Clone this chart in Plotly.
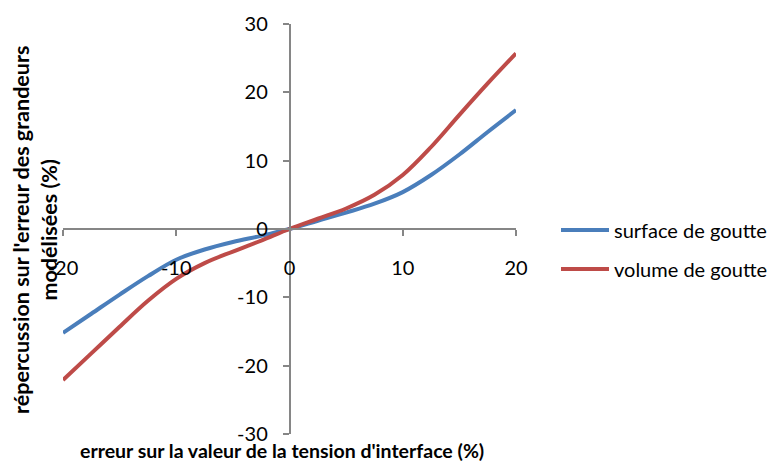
import plotly.graph_objects as go

x_vals = [-20, -17.5, -15, -12.5, -10, -7.5, -5, -2.5, 0, 2.5, 5, 7.5, 10, 12.5, 15, 17.5, 20]
surface = [-15.2, -12.4, -9.6, -6.9, -4.5, -3.0, -1.9, -1.0, 0, 1.2, 2.4, 3.7, 5.4, 7.9, 10.9, 14.2, 17.4]
volume = [-22.1, -18.2, -14.3, -10.5, -7.3, -5.0, -3.3, -1.7, 0, 1.5, 3.0, 5.0, 7.9, 12.0, 16.7, 21.3, 25.7]
x_ticks = [-20, -10, 0, 10, 20]
x_tick_labels = ["-20", "-10", "0", "10", "20"]
y_ticks = [-30, -20, -10, 0, 10, 20, 30]
y_tick_labels = ["-30", "-20", "-10", "0", "10", "20", "30"]

FONT = "Lato"
AX = "#868686"
OFF = 8  # page body margin

W, H = 775 - OFF, 463 - OFF
L, R_EDGE, T, B_EDGE = 63 - OFF, 516 - OFF, 24 - OFF, 434 - OFF
PW, PH = R_EDGE - L, B_EDGE - T


def px(xp):
    return (xp - OFF - L) / PW


def py(yp):
    return (B_EDGE - (yp - OFF)) / PH


fig = go.Figure()
fig.add_trace(go.Scatter(x=x_vals, y=surface, mode="lines", name="surface de goutte",
                         line=dict(color="#4A7EBB", width=4, shape="spline", smoothing=1.0),
                         legend="legend"))
fig.add_trace(go.Scatter(x=x_vals, y=volume, mode="lines", name="volume de goutte",
                         line=dict(color="#BE4B48", width=4, shape="spline", smoothing=1.0),
                         legend="legend2"))

leg_common = dict(xref="paper", yref="paper", xanchor="left", yanchor="middle",
                  font=dict(size=20), bgcolor="rgba(0,0,0,0)", itemwidth=48)

fig.update_layout(
    width=W, height=H,
    margin=dict(l=L, r=W - R_EDGE, t=T, b=H - B_EDGE, autoexpand=False),
    paper_bgcolor="white", plot_bgcolor="white",
    font=dict(family=FONT, size=20, color="#000000"),
    xaxis=dict(range=[-20, 20], tickvals=x_ticks, ticktext=x_tick_labels, anchor="free", position=0.5,
               showline=True, linecolor=AX, linewidth=1.5, ticks="outside", ticklen=6,
               tickcolor=AX, tickwidth=1.5, showgrid=False, zeroline=False, automargin=False,
               ticklabelstandoff=15, tickfont=dict(size=20)),
    yaxis=dict(range=[-30, 30], tickvals=y_ticks, ticktext=y_tick_labels, anchor="free", position=0.5,
               showline=True, linecolor=AX, linewidth=1.5, ticks="outside", ticklen=6,
               tickcolor=AX, tickwidth=1.5, showgrid=False, zeroline=False, automargin=False,
               ticklabelstandoff=11, tickfont=dict(size=20)),
    legend=dict(x=px(556), y=py(230), **leg_common),
    legend2=dict(x=px(556), y=py(269), **leg_common),
    showlegend=True,
)

fig.add_annotation(text="<b>erreur sur la valeur de la tension d'interface (%)</b>",
                   xref="paper", yref="paper", x=px(282), y=py(450),
                   showarrow=False, font=dict(size=19.5, family=FONT, color="#000000"),
                   xanchor="center", yanchor="middle", borderpad=0)
fig.add_annotation(text="<b>répercussion sur l'erreur des grandeurs<br>modélisées (%)</b>",
                   xref="paper", yref="paper", x=px(35), y=py(230),
                   showarrow=False, textangle=-90, font=dict(size=21.5, family=FONT, color="#000000"),
                   xanchor="center", yanchor="middle")

fig.write_html("out.html")
